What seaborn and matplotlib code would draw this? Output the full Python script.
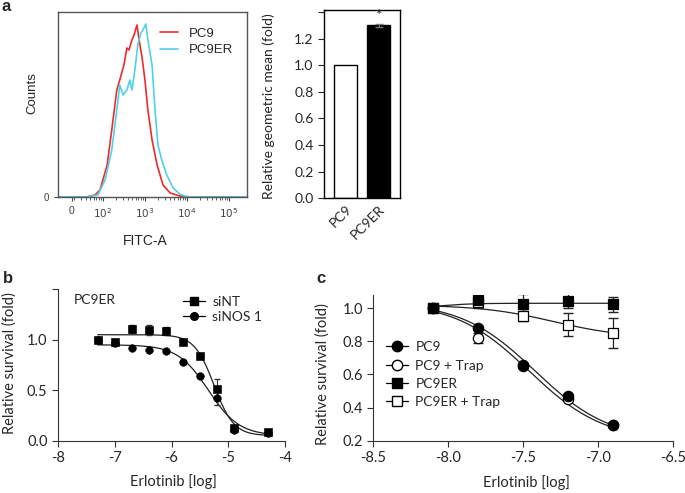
import numpy as np
import pandas as pd
import matplotlib
matplotlib.use('Agg')
import matplotlib.pyplot as plt
import seaborn as sns

sns.set_style('ticks')
plt.rcParams['font.family'] = ['Lato', 'DejaVu Sans']
plt.rcParams['axes.unicode_minus'] = False

# ---- panel a: flow histogram (x in log10 FITC-A units) ----
pc9_x = [0.93, 1.60, 1.81, 1.93, 2.10, 2.21, 2.33, 2.40, 2.50, 2.57, 2.62, 2.69, 2.74,
         2.81, 2.88, 2.93, 3.00, 3.07, 3.17, 3.29, 3.43, 3.60, 3.83, 4.10, 5.43]
pc9_counts = [0, 0, 2, 7, 32, 67, 107, 117, 132, 149, 147, 157, 162,
              172, 152, 140, 117, 87, 57, 32, 12, 4, 1, 0, 0]
pc9er_x = [0.93, 1.60, 1.88, 2.05, 2.21, 2.33, 2.40, 2.48, 2.57, 2.64, 2.69, 2.76, 2.83,
           2.90, 2.95, 3.02, 3.07, 3.17, 3.24, 3.31, 3.40, 3.52, 3.67, 3.83, 4.00, 5.43]
pc9er_counts = [0, 0, 2, 17, 47, 87, 112, 102, 107, 117, 107, 127, 152,
                164, 167, 173, 157, 132, 87, 52, 37, 22, 9, 3, 0, 0]

bar_labels = ['PC9', 'PC9ER']
bar_values = [1.0, 1.30]
bar_err = [0.0, 0.012]

# ---- panel b ----
b_dose = [-7.3, -7.0, -6.7, -6.4, -6.1, -5.8, -5.5, -5.2, -4.9, -4.3]
sint_mean = [1.00, 0.98, 1.11, 1.10, 1.09, 0.98, 0.84, 0.51, 0.125, 0.085]
sint_err = [0.02, 0.03, 0.04, 0.05, 0.04, 0.02, 0.02, 0.10, 0.02, 0.02]
sinos_mean = [1.00, 0.97, 0.92, 0.90, 0.89, 0.78, 0.645, 0.42, 0.105, 0.08]
sinos_err = [0.01, 0.02, 0.01, 0.01, 0.01, 0.02, 0.02, 0.07, 0.02, 0.01]
# fitted 4PL parameters: top, bottom, logIC50, hill
sint_fit = [1.05, 0.05, -5.25, 2.5]
sinos_fit = [0.95, 0.05, -5.35, 1.6]

# ---- panel c ----
c_dose = [-8.1, -7.8, -7.5, -7.2, -6.9]
pc9_mean = [1.0, 0.883, 0.658, 0.472, 0.297]
pc9_err = [0.0, 0.01, 0.01, 0.01, 0.01]
pc9trap_mean = [1.0, 0.819, 0.65, 0.45, 0.297]
pc9trap_err = [0.0, 0.03, 0.01, 0.01, 0.01]
pc9er_mean = [1.0, 1.05, 1.025, 1.045, 1.025]
pc9er_err = [0.0, 0.045, 0.06, 0.045, 0.045]
pc9ertrap_mean = [1.0, 1.04, 0.955, 0.90, 0.85]
pc9ertrap_err = [0.0, 0.04, 0.03, 0.07, 0.09]
pc9_fit = [1.04, 0.2, -7.42, 1.75]
pc9trap_fit = [1.04, 0.2, -7.46, 1.75]
pc9er_fit = [1.0, 1.03, -8.05, 4.0]
pc9ertrap_fit = [1.02, 0.82, -7.3, 1.8]


def four_pl(x, top, bottom, logc, hill):
    return bottom + (top - bottom) / (1 + 10 ** (hill * (x - logc)))


fig = plt.figure(figsize=(6.85, 4.93), dpi=100)
W, H = 685, 493


def add_ax(left, top, right, bottom):
    return fig.add_axes([left / W, 1 - bottom / H, (right - left) / W, (bottom - top) / H])


arial = ['Liberation Sans', 'DejaVu Sans']

# histogram
ax = add_ax(58, 12, 247, 197)
sns.lineplot(x=pc9_x, y=pc9_counts, color='#ef2a2a', lw=1.2, ax=ax, label='PC9')
sns.lineplot(x=pc9er_x, y=pc9er_counts, color='#4fd2e8', lw=1.2, ax=ax, label='PC9ER')
ax.set_xlim(0.93, 5.43)
ax.set_ylim(0, 185)
ax.set_xticks([1.26, 2, 3, 4, 5])
ax.set_xticklabels(['0', '$10^2$', '$10^3$', '$10^4$', '$10^5$'], family=arial, fontsize=7.5)
minor = [np.log10(k * 10.0 ** n) for n in (1, 2, 3, 4) for k in range(2, 10)]
ax.set_xticks([m for m in minor if m > 1.0], minor=True)
ax.set_yticks([0])
ax.set_yticklabels(['0'], family=arial, fontsize=7)
ax.tick_params(axis='both', which='major', length=3, width=0.8, colors='#444444')
ax.tick_params(axis='x', which='minor', length=2, width=0.6, colors='#444444')
for s in ax.spines.values():
    s.set_color('#555555')
    s.set_linewidth(1.0)
ax.set_ylabel('Counts', family=arial, fontsize=9.5)
ax.yaxis.set_label_coords(-0.105, 0.56)
ax.set_xlabel('FITC-A', family=arial, fontsize=10)
ax.xaxis.set_label_coords(0.46, -0.2)
ax.legend(loc='upper right', bbox_to_anchor=(0.96, 0.95), frameon=False,
          prop={'family': arial, 'size': 9.5}, handlelength=1.4,
          handletextpad=0.8, labelspacing=0.3, borderpad=0)

# bar chart
ax = add_ax(324, 10, 400, 198.3)
sns.barplot(x=bar_labels, y=bar_values, hue=bar_labels, palette=['white', 'black'],
            edgecolor='black', linewidth=1.0, width=0.72, legend=False, ax=ax)
ax.errorbar([1], [bar_values[1]], yerr=[bar_err[1]], fmt='none', ecolor='#777777',
            capsize=3, lw=0.8)
ax.text(1, bar_values[1] + 0.02, '*', ha='center', va='bottom', fontsize=11, color='#222222')
ax.set_xlim(-0.65, 1.65)
ax.set_ylim(0, 1.415)
ax.set_yticks([0, 0.2, 0.4, 0.6, 0.8, 1.0, 1.2, 1.4])
ax.set_yticklabels(['0.0', '0.2', '0.4', '0.6', '0.8', '1.0', '1.2', ''], fontsize=10)
ax.tick_params(axis='y', length=4, width=0.8)
ax.tick_params(axis='x', length=0)
ax.set_xticks([0, 1])
ax.set_xticklabels(bar_labels, rotation=45, ha='right', rotation_mode='anchor', fontsize=10)
for s in ax.spines.values():
    s.set_color('black')
    s.set_linewidth(1.0)
ax.set_ylabel('Relative geometric mean (fold)', fontsize=10)
ax.yaxis.set_label_coords(-0.64, 0.49)

# panel b
ax = add_ax(58, 289.3, 285, 440.7)
xs = np.linspace(b_dose[0], b_dose[-1], 200)
sns.lineplot(x=xs, y=four_pl(xs, *sint_fit), color='#222222', lw=0.9, ax=ax)
sns.lineplot(x=xs, y=four_pl(xs, *sinos_fit), color='#222222', lw=0.9, ax=ax)
ax.errorbar(b_dose, sint_mean, yerr=sint_err, fmt='none', ecolor='#333333', capsize=2.5, lw=0.8)
ax.errorbar(b_dose, sinos_mean, yerr=sinos_err, fmt='none', ecolor='#333333', capsize=2.5, lw=0.8)
sns.scatterplot(x=b_dose, y=sinos_mean, marker='o', s=30, color='black', edgecolor='black', ax=ax, zorder=3)
sns.scatterplot(x=b_dose, y=sint_mean, marker='s', s=30, color='black', edgecolor='black', ax=ax, zorder=3)
ax.plot([], [], color='black', marker='s', ms=5.5, lw=0.9, label='siNT')
ax.plot([], [], color='black', marker='o', ms=5.5, lw=0.9, label='siNOS 1')
ax.legend(loc='upper right', bbox_to_anchor=(0.93, 1.0), frameon=False, fontsize=10,
          handlelength=1.6, handletextpad=0.5, labelspacing=0.2, borderpad=0)
ax.text(-7.72, 1.39, 'PC9ER', va='center', fontsize=10)
ax.set_xlim(-8, -4)
ax.set_ylim(0, 1.5)
ax.set_xticks([-8, -7, -6, -5, -4])
ax.set_xticklabels(['-8', '-7', '-6', '-5', '-4'], fontsize=10.5)
ax.set_yticks([0, 0.5, 1.0, 1.5])
ax.set_yticklabels(['0.0', '0.5', '1.0', ''], fontsize=10.5)
ax.tick_params(length=4, width=0.8, color='#333333')
sns.despine(ax=ax)
for s in ax.spines.values():
    s.set_color('#333333')
    s.set_linewidth(0.8)
ax.set_ylabel('Relative survival (fold)', fontsize=10.5)
ax.yaxis.set_label_coords(-0.18, 0.51)
ax.set_xlabel('Erlotinib [log]', fontsize=10.5)
ax.xaxis.set_label_coords(0.507, -0.22)

# panel c
ax = add_ax(373.3, 295, 673.3, 440.7)
xs = np.linspace(c_dose[0], c_dose[-1], 200)
for p in (pc9_fit, pc9trap_fit, pc9er_fit, pc9ertrap_fit):
    sns.lineplot(x=xs, y=four_pl(xs, *p), color='#222222', lw=0.9, ax=ax)
series = [
    (pc9ertrap_mean, pc9ertrap_err, 's', 'white'),
    (pc9trap_mean, pc9trap_err, 'o', 'white'),
    (pc9er_mean, pc9er_err, 's', 'black'),
    (pc9_mean, pc9_err, 'o', 'black'),
]
for mean, err, mk, fc in series:
    ax.errorbar(c_dose, mean, yerr=err, fmt='none', ecolor='#222222', capsize=3.5, lw=0.9, zorder=2)
    sns.scatterplot(x=c_dose, y=mean, marker=mk, s=55, color=fc, edgecolor='black',
                    linewidth=0.9, ax=ax, zorder=3)
ax.plot([], [], color='black', marker='o', ms=7.5, mfc='black', lw=0.9, label='PC9')
ax.plot([], [], color='black', marker='o', ms=7.5, mfc='white', lw=0.9, label='PC9 + Trap')
ax.plot([], [], color='black', marker='s', ms=7.5, mfc='black', lw=0.9, label='PC9ER')
ax.plot([], [], color='black', marker='s', ms=7.5, mfc='white', lw=0.9, label='PC9ER + Trap')
ax.legend(loc='upper left', bbox_to_anchor=(0.02, 0.73), frameon=False, fontsize=10,
          handlelength=1.6, handletextpad=0.5, labelspacing=0.45, borderpad=0)
ax.set_xlim(-8.5, -6.5)
ax.set_ylim(0.2, 1.08)
ax.set_xticks([-8.5, -8.0, -7.5, -7.0, -6.5])
ax.set_xticklabels(['-8.5', '-8.0', '-7.5', '-7.0', '-6.5'], fontsize=10.5)
ax.set_yticks([0.2, 0.4, 0.6, 0.8, 1.0])
ax.set_yticklabels(['0.2', '0.4', '0.6', '0.8', '1.0'], fontsize=10.5)
ax.tick_params(length=4, width=0.8, color='#333333')
sns.despine(ax=ax)
for s in ax.spines.values():
    s.set_color('#333333')
    s.set_linewidth(0.8)
ax.set_ylabel('Relative survival (fold)', fontsize=10.5)
ax.yaxis.set_label_coords(-0.144, 0.458)
ax.set_xlabel('Erlotinib [log]', fontsize=10.5)
ax.xaxis.set_label_coords(0.512, -0.235)

# panel letters
for letter, x, y in (('a', 1, 11), ('b', 3, 283), ('c', 316, 283)):
    fig.text(x / W, 1 - y / H, letter, family=arial, fontweight='bold', fontsize=12, va='baseline')

fig.savefig('out.png', dpi=100)
